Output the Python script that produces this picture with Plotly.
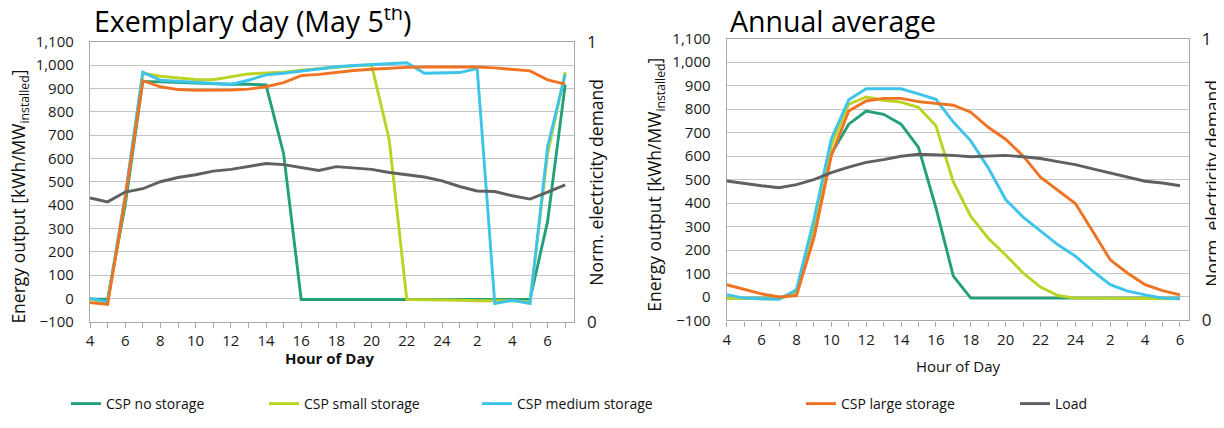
import plotly.graph_objects as go

# ---------------- data ----------------
day_hours = [4, 5, 6, 7, 8, 9, 10, 11, 12, 13, 14, 15, 16, 17, 18, 19, 20, 21, 22, 23, 24, 1, 2, 3, 4, 5, 6, 7]
avg_hours = [4, 5, 6, 7, 8, 9, 10, 11, 12, 13, 14, 15, 16, 17, 18, 19, 20, 21, 22, 23, 24, 1, 2, 3, 4, 5, 6]

# Exemplary day (May 5th), kWh/MW_installed
day_no_storage = [-2, -5, 400, 930, 928, 925, 922, 920, 918, 918, 915, 620, -5, -5, -5, -5, -5, -5, -5, -5, -5, -5, -5, -5, -5, -5, 330, 915]
day_small = [-5, -18, 430, 965, 952, 945, 938, 937, 948, 962, 966, 970, 978, 985, 992, 997, 1000, 680, -5, -5, -7, -8, -10, -10, -10, -15, 620, 970]
day_medium = [0, -15, 440, 970, 935, 930, 925, 920, 917, 935, 958, 965, 975, 985, 993, 998, 1003, 1007, 1010, 965, 967, 968, 985, -22, -8, -22, 650, 960]
day_large = [-18, -26, 430, 933, 907, 895, 892, 892, 893, 897, 907, 925, 955, 960, 970, 977, 982, 987, 990, 992, 993, 993, 992, 988, 980, 975, 937, 918]
# normalized electricity demand (0..1)
day_load = [0.442, 0.428, 0.463, 0.475, 0.500, 0.515, 0.525, 0.538, 0.544, 0.554, 0.565, 0.561, 0.550, 0.540, 0.554, 0.550, 0.544, 0.533, 0.525, 0.517, 0.503, 0.483, 0.467, 0.465, 0.450, 0.438, 0.463, 0.489]

# Annual average, kWh/MW_installed
avg_no_storage = [-5, -5, -5, -5, 20, 300, 610, 736, 792, 778, 736, 637, 380, 89, -5, -5, -5, -5, -5, -5, -5, -5, -5, -5, -5, -5, -5]
avg_small = [-5, -8, -8, -8, 15, 310, 645, 821, 852, 838, 830, 808, 729, 490, 343, 250, 179, 102, 42, 6, -5, -5, -5, -5, -5, -5, -8]
avg_medium = [10, -5, -8, -10, 31, 330, 673, 840, 887, 887, 887, 865, 842, 745, 665, 550, 415, 340, 280, 222, 174, 110, 52, 25, 9, -5, -8]
avg_large = [52, 31, 13, 0, 6, 250, 602, 792, 835, 846, 846, 832, 825, 817, 787, 723, 672, 601, 510, 455, 398, 279, 158, 101, 52, 27, 9]
avg_load = [0.495, 0.486, 0.478, 0.471, 0.482, 0.500, 0.525, 0.544, 0.561, 0.571, 0.583, 0.590, 0.589, 0.586, 0.581, 0.583, 0.586, 0.581, 0.575, 0.564, 0.553, 0.538, 0.523, 0.508, 0.494, 0.488, 0.478]

series_names = ["CSP no storage", "CSP small storage", "CSP medium storage", "CSP large storage", "Load"]
colors = ["#22a07c", "#bcd323", "#3ec4ea", "#f07323", "#606060"]
legend_px = [72, 270, 483, 807, 1021]

# page body has an 8px margin: figure is drawn 8px in from top-left
OFF = 8
W, H = 1224 - 2 * OFF, 428 - 2 * OFF
FONT = "Open Sans"
LW = 2.9

def PX(x):
    return (x - OFF) / W

def PY(y):
    return 1 - (y - OFF) / H

fig = go.Figure()

day_x = list(range(len(day_hours)))
avg_x = list(range(len(avg_hours)))

day_series = [day_no_storage, day_small, day_medium, day_large]
avg_series = [avg_no_storage, avg_small, avg_medium, avg_large]

for i, ys in enumerate(day_series):
    lg = "legend" if i == 0 else f"legend{i+1}"
    fig.add_trace(go.Scatter(x=day_x, y=ys, mode="lines", name=series_names[i],
                             line=dict(color=colors[i], width=LW),
                             xaxis="x", yaxis="y", legend=lg, showlegend=True))
fig.add_trace(go.Scatter(x=day_x, y=day_load, mode="lines", name=series_names[4],
                         line=dict(color=colors[4], width=LW),
                         xaxis="x", yaxis="y2", legend="legend5", showlegend=True))
for i, ys in enumerate(avg_series):
    fig.add_trace(go.Scatter(x=avg_x, y=ys, mode="lines", name=series_names[i],
                             line=dict(color=colors[i], width=LW),
                             xaxis="x2", yaxis="y3", showlegend=False))
fig.add_trace(go.Scatter(x=avg_x, y=avg_load, mode="lines", name=series_names[4],
                         line=dict(color=colors[4], width=LW),
                         xaxis="x2", yaxis="y4", showlegend=False))

# legends
for i in range(5):
    key = "legend" if i == 0 else f"legend{i+1}"
    fig.layout[key] = dict(x=PX(legend_px[i] - 6), xanchor="left", y=PY(407), yanchor="middle",
                           orientation="h", bgcolor="rgba(0,0,0,0)",
                           font=dict(family=FONT, size=14, color="#111"))

grid = "#c4c4c4"
axline = "#a8a8a8"
tickfont = dict(family=FONT, size=15, color="#1a1a1a")

day_tickvals = [i for i in day_x if i % 2 == 0]
day_ticktext = [str(day_hours[i]) for i in day_tickvals]
avg_tickvals = [i for i in avg_x if i % 2 == 0]
avg_ticktext = [str(avg_hours[i]) for i in avg_tickvals]

def xaxis(domain, rng, tv, tt, anchor):
    return dict(domain=domain, range=rng, anchor=anchor, tickvals=tv, ticktext=tt,
                showgrid=False, zeroline=False, showline=True, linecolor=axline, linewidth=1.3,
                mirror=True, ticks="outside", ticklen=5, tickcolor=axline,
                minor=dict(ticks="outside", dtick=1, tick0=0, ticklen=5, tickcolor=axline),
                tickfont=tickfont, automargin=False)

def yaxis(domain, anchor):
    return dict(domain=domain, range=[-100, 1100], anchor=anchor, dtick=100, tickformat=",",
                showgrid=True, gridcolor=grid, gridwidth=1.3, zeroline=False,
                showline=True, linecolor=axline, linewidth=1.3, mirror=True,
                ticks="", ticklabelstandoff=12, tickfont=tickfont, automargin=False)

def y2axis(overlay, anchor):
    return dict(overlaying=overlay, side="right", anchor=anchor, range=[0, 1], tickvals=[0, 1],
                ticktext=["0", "1"], showgrid=False, zeroline=False, showline=False,
                ticks="", ticklabelstandoff=12, tickfont=dict(family=FONT, size=17, color="#1a1a1a"),
                automargin=False)

ld = [PX(90), PX(574)]
rd = [PX(726.7), PX(1188.7)]
fig.update_layout(
    xaxis=xaxis(ld, [0, 27.5], day_tickvals, day_ticktext, "y"),
    yaxis=yaxis([PY(324), PY(42)], "x"),
    yaxis2=y2axis("y", "x"),
    xaxis2=xaxis(rd, [0, 26.5], avg_tickvals, avg_ticktext, "y3"),
    yaxis3=yaxis([PY(322.7), PY(39)], "x2"),
    yaxis4=y2axis("y3", "x2"),
)

ann = [
    dict(text="Exemplary day (May 5<sup>th</sup>)", x=PX(92), y=PY(42.5), xanchor="left", yanchor="bottom",
         font=dict(family=FONT, size=28.5, color="#000")),
    dict(text="Annual average", x=PX(728), y=PY(42.5), xanchor="left", yanchor="bottom",
         font=dict(family=FONT, size=28.5, color="#000")),
    dict(text="<b>Hour of Day</b>", x=PX(330), y=PY(361), xanchor="center", yanchor="middle",
         font=dict(family=FONT, size=15, color="#111")),
    dict(text="Hour of Day", x=PX(958), y=PY(369), xanchor="center", yanchor="middle",
         font=dict(family=FONT, size=15, color="#111")),
    dict(text="Energy output [kWh/MW<sub>installed</sub>]", x=PX(20), y=PY(198), textangle=-90,
         xanchor="center", yanchor="middle", font=dict(family=FONT, size=17.5, color="#111")),
    dict(text="Energy output [kWh/MW<sub>installed</sub>]", x=PX(656), y=PY(186), textangle=-90,
         xanchor="center", yanchor="middle", font=dict(family=FONT, size=17.5, color="#111")),
    dict(text="Norm. electricity demand", x=PX(596), y=PY(184), textangle=-90,
         xanchor="center", yanchor="middle", font=dict(family=FONT, size=17.5, color="#111")),
    dict(text="Norm. electricity demand", x=PX(1212), y=PY(185), textangle=-90,
         xanchor="center", yanchor="middle", font=dict(family=FONT, size=17.5, color="#111")),
]
for a in ann:
    a.update(xref="paper", yref="paper", showarrow=False)
fig.update_layout(annotations=ann, width=W, height=H, margin=dict(l=0, r=0, t=0, b=0),
                  paper_bgcolor="white", plot_bgcolor="white", font=dict(family=FONT))

fig.write_html("out.html")
